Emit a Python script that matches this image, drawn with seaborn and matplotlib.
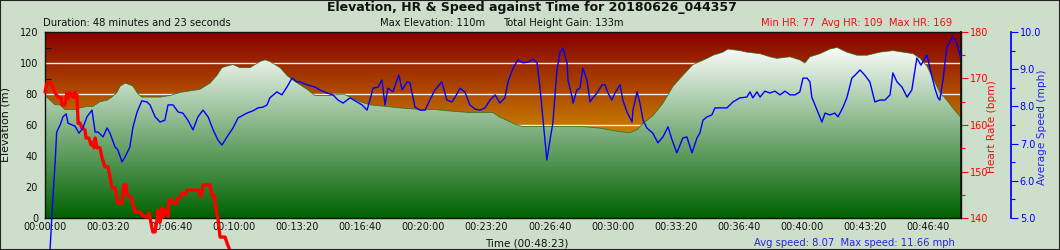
import numpy as np
import matplotlib
matplotlib.use("Agg")
import matplotlib.pyplot as plt
import seaborn as sns
from matplotlib.ticker import MultipleLocator, FuncFormatter
from matplotlib.patches import Rectangle

# ---------------- data ----------------
duration_s = 2903

elev_t = [0, 16, 32, 48, 63, 95, 111, 133, 152, 174, 197, 212, 228, 238, 254, 269, 279, 295, 307,
          365, 396, 428, 460, 491, 523, 545, 561, 577, 596, 618, 650, 666, 682, 697, 713, 729, 745,
          767, 786, 808, 831, 856, 903, 945, 967, 999, 1030, 1078, 1125, 1189, 1236, 1284, 1347,
          1420, 1442, 1465, 1496, 1515, 1705, 1759, 1813, 1854, 1877, 1896, 1927, 1959, 1991, 2022,
          2054, 2077, 2099, 2118, 2149, 2165, 2203, 2225, 2267, 2298, 2320, 2362, 2393, 2409, 2425,
          2457, 2488, 2511, 2542, 2574, 2606, 2647, 2688, 2720, 2752, 2774, 2796, 2815, 2837, 2859,
          2878, 2903]
elev_m = [79, 76, 73, 73, 70, 70, 71, 72, 72, 75, 76, 78, 81, 85, 87, 86, 85, 80, 78,
          78, 79, 81, 82, 83, 87, 92, 97, 98, 99, 97, 97, 99, 101, 102, 101, 99, 97,
          92, 89, 86, 83, 79, 79, 80, 78, 75, 73, 72, 71, 70, 70, 69, 68,
          68, 65, 63, 60, 59, 59, 58, 56, 55, 57, 61, 66, 74, 85, 92,
          99, 101, 103, 105, 107, 109, 108, 107, 106, 104, 103, 104, 102, 100, 104,
          106, 109, 110, 107, 105, 105, 107, 108, 107, 106, 103, 98, 90, 81, 76,
          71, 65]

speed_t = [10, 16, 24, 32, 37, 48, 57, 67, 73, 86, 95, 108, 120, 133, 149, 159, 168, 184, 197, 206,
           222, 231, 244, 254, 269, 279, 292, 307, 323, 333, 349, 365, 380, 390, 406, 422, 437, 453,
           469, 485, 501, 517, 533, 548, 561, 577, 596, 612, 640, 659, 675, 691, 704, 713, 735, 751,
           767, 783, 799, 808, 831, 856, 872, 894, 913, 929, 945, 967, 989, 1005, 1021, 1030, 1040,
           1056, 1068, 1078, 1087, 1103, 1116, 1122, 1132, 1148, 1157, 1173, 1189, 1205, 1220, 1236,
           1258, 1274, 1290, 1300, 1316, 1331, 1347, 1363, 1379, 1395, 1411, 1427, 1442, 1458, 1468,
           1484, 1499, 1515, 1531, 1547, 1560, 1569, 1579, 1591, 1601, 1610, 1623, 1633, 1642, 1655,
           1658, 1671, 1674, 1686, 1696, 1705, 1718, 1728, 1737, 1750, 1766, 1775, 1785, 1797, 1807,
           1823, 1832, 1845, 1861, 1864, 1877, 1886, 1896, 1908, 1927, 1943, 1959, 1975, 1988, 2003,
           2013, 2022, 2035, 2051, 2067, 2076, 2086, 2099, 2114, 2124, 2140, 2162, 2181, 2203, 2225,
           2235, 2244, 2257, 2267, 2282, 2298, 2314, 2330, 2346, 2362, 2378, 2393, 2403, 2416, 2425,
           2431, 2441, 2450, 2463, 2473, 2488, 2504, 2514, 2530, 2542, 2558, 2568, 2584, 2599, 2615,
           2631, 2647, 2663, 2679, 2688, 2701, 2717, 2733, 2748, 2758, 2764, 2777, 2790, 2796, 2809,
           2821, 2831, 2837, 2847, 2859, 2869, 2878, 2891, 2903]
speed_mph = [3.01, 4.14, 5.40, 6.48, 7.31, 7.50, 7.72, 7.80, 7.55, 7.50, 7.47, 7.28, 7.42, 7.72, 7.90,
             7.31, 7.31, 7.18, 7.42, 7.28, 6.91, 6.83, 6.51, 6.64, 6.91, 7.45, 7.85, 8.15, 8.12, 8.04,
             7.72, 7.58, 7.63, 8.04, 8.04, 7.85, 7.82, 7.63, 7.37, 7.72, 7.90, 7.72, 7.37, 7.10, 6.96,
             7.18, 7.42, 7.69, 7.82, 7.88, 7.96, 7.98, 8.04, 8.23, 8.39, 8.31, 8.52, 8.76, 8.66, 8.66,
             8.58, 8.52, 8.44, 8.36, 8.31, 8.17, 8.09, 8.23, 8.12, 8.04, 7.90, 8.17, 8.49, 8.52, 8.71,
             8.04, 8.49, 8.39, 8.71, 8.84, 8.44, 8.66, 8.63, 7.98, 7.90, 7.90, 8.17, 8.44, 8.66, 8.17,
             8.12, 8.25, 8.49, 8.39, 8.04, 7.93, 7.90, 7.96, 8.17, 8.31, 8.09, 8.23, 8.66, 9.03, 9.25,
             9.17, 9.19, 9.27, 9.17, 8.52, 7.63, 6.56, 7.10, 7.55, 8.98, 9.46, 9.57, 9.17, 8.71, 8.25,
             8.09, 8.44, 8.49, 9.03, 8.71, 8.12, 8.23, 8.36, 8.58, 8.58, 8.36, 8.17, 8.36, 8.58, 8.17,
             7.85, 7.58, 7.90, 8.39, 8.09, 7.63, 7.42, 7.28, 7.02, 7.18, 7.45, 7.10, 6.75, 6.96, 7.15,
             7.18, 6.75, 7.15, 7.28, 7.63, 7.72, 7.77, 7.96, 7.96, 7.96, 8.12, 8.23, 8.25, 8.39, 8.23,
             8.39, 8.25, 8.41, 8.36, 8.41, 8.31, 8.41, 8.31, 8.31, 8.39, 8.76, 8.76, 8.66, 8.25, 8.04,
             7.85, 7.58, 7.82, 7.77, 7.82, 7.72, 7.98, 8.23, 8.76, 8.84, 8.98, 8.84, 8.66, 8.12, 8.17,
             8.17, 8.31, 8.90, 8.66, 8.52, 8.25, 8.44, 8.98, 9.30, 9.11, 9.30, 9.38, 8.90, 8.49, 8.23,
             8.17, 8.71, 9.60, 9.73, 9.87, 9.70, 9.30]

hr_t = [0, 6, 19, 25, 32, 41, 51, 54, 63, 70, 73, 79, 89, 95, 98, 101, 105, 111, 117, 127, 130, 139,
        146, 149, 152, 155, 159, 165, 174, 181, 190, 200, 206, 212, 222, 231, 244, 250, 257, 260,
        273, 285, 301, 311, 323, 330, 336, 342, 349, 355, 358, 365, 371, 374, 380, 390, 393, 403,
        406, 418, 421, 428, 434, 447, 450, 485, 495, 501, 523, 529, 536, 542, 548, 555, 571, 577,
        586, 596]
hr_bpm = [167.1, 169.0, 169.0, 168.0, 166.9, 166.0, 165.8, 164.3, 164.3, 166.9, 165.8, 166.9, 166.0,
          167.1, 165.8, 166.5, 160.4, 160.4, 159.4, 158.9, 157.2, 157.2, 155.7, 155.7, 156.3, 155.1,
          157.2, 155.1, 155.1, 152.9, 151.0, 151.0, 148.8, 146.5, 146.5, 143.2, 143.2, 147.1, 147.1,
          144.9, 144.5, 141.3, 141.3, 140.4, 140.2, 141.1, 138.9, 137.0, 137.0, 139.6, 141.7, 139.1,
          142.2, 140.2, 141.7, 140.4, 143.9, 143.9, 143.2, 143.2, 144.3, 144.3, 145.2, 145.2, 146.0,
          146.0, 144.7, 147.1, 147.1, 144.9, 144.9, 141.7, 140.0, 135.9, 135.9, 134.6, 133.1, 131.0]

title = "Elevation, HR & Speed against Time for 20180626_044357"
sub_left = "Duration: 48 minutes and 23 seconds"
sub_mid1 = "Max Elevation: 110m"
sub_mid2 = "Total Height Gain: 133m"
sub_hr = "Min HR: 77  Avg HR: 109  Max HR: 169"
xlabel = "Time (00:48:23)"
sub_speed = "Avg speed: 8.07  Max speed: 11.66 mph"

# ---------------- style ----------------
sns.set_theme(style="white")
plt.rcParams["font.family"] = ["DejaVu Sans"]

BG = "#cddfcb"
W, H = 1060, 250
L, R, T, B = 45, 960.7, 32, 218

fig = plt.figure(figsize=(W / 100, H / 100), dpi=100, facecolor=BG)
ax = fig.add_axes([L / W, 1 - B / H, (R - L) / W, (B - T) / H])

# red/orange background gradient
g = np.linspace(0, 1, 256)[:, None, None]
top_c = np.array([136, 0, 0]) / 255
bot_c = np.array([255, 235, 0]) / 255
red_img = top_c + (bot_c - top_c) * g
ax.imshow(red_img, extent=[0, duration_s, 0, 120], aspect="auto", origin="upper", zorder=0)

for v in [20, 40, 60, 80, 100]:
    ax.axhline(v, color="#f4eee6", lw=1, zorder=1)

# elevation fill with white->green gradient
coll = ax.fill_between(elev_t, elev_m, 0, facecolor="none", edgecolor="none", zorder=2)
gtop = np.array([250, 252, 250]) / 255
gbot = np.array([0, 98, 0]) / 255
green_img = gtop + (gbot - gtop) * g
gim = ax.imshow(green_img, extent=[0, duration_s, 0, 110], aspect="auto", origin="upper", zorder=2)
gim.set_clip_path(coll.get_paths()[0], transform=ax.transData)
sns.lineplot(x=elev_t, y=elev_m, ax=ax, color="#1f6e1f", lw=0.6, alpha=0.8, zorder=3,
             estimator=None, sort=False)

ax.set_xlim(0, duration_s)
ax.set_ylim(0, 120)
ax.set_xlabel("")
ax.set_ylabel("")

def hms(x, pos):
    x = int(round(x))
    return "%02d:%02d:%02d" % (x // 3600, (x % 3600) // 60, x % 60)

ax.xaxis.set_major_locator(MultipleLocator(200))
ax.xaxis.set_minor_locator(MultipleLocator(100))
ax.xaxis.set_major_formatter(FuncFormatter(hms))
ax.yaxis.set_major_locator(MultipleLocator(20))
ax.yaxis.set_minor_locator(MultipleLocator(10))
ax.tick_params(axis="both", which="both", direction="in", length=4, width=0.8, color="#111",
               labelsize=7, labelcolor="#111")
ax.tick_params(axis="x", which="both", pad=3, bottom=True, top=False)
ax.tick_params(axis="y", which="both", pad=5, left=True, right=False)
for s in ax.spines.values():
    s.set_color("#111")
    s.set_linewidth(1)
    s.set_visible(True)

# heart-rate axis
ax2 = ax.twinx()
ax2.set_ylim(140, 180)
sns.lineplot(x=hr_t, y=hr_bpm, ax=ax2, color="#ff0000", lw=2.4, clip_on=False,
             estimator=None, sort=False)
ax2.set_xlim(0, duration_s)
ax2.set_ylabel("")
ax2.yaxis.set_major_locator(MultipleLocator(10))
ax2.yaxis.set_minor_locator(MultipleLocator(5))
ax2.tick_params(axis="y", which="major", direction="out", length=5, width=0.8, color="red",
                labelcolor="red", labelsize=7, pad=1.5)
ax2.tick_params(axis="y", which="minor", direction="out", length=3, width=0.8, color="red")
for k in ["left", "top", "bottom"]:
    ax2.spines[k].set_visible(False)
ax2.spines["right"].set_color("#111")

# speed axis
ax3 = ax.twinx()
ax3.set_ylim(5, 10)
sns.lineplot(x=speed_t, y=speed_mph, ax=ax3, color="#0000ff", lw=1, clip_on=False,
             estimator=None, sort=False)
ax3.set_xlim(0, duration_s)
ax3.set_ylabel("")
ax3.spines["right"].set_position(("axes", (1010.7 - L) / (R - L)))
ax3.spines["right"].set_color("#0000ff")
for k in ["left", "top", "bottom"]:
    ax3.spines[k].set_visible(False)
ax3.yaxis.set_major_locator(MultipleLocator(1))
ax3.yaxis.set_minor_locator(MultipleLocator(0.5))
ax3.yaxis.set_major_formatter(FuncFormatter(lambda v, p: "%.1f" % v))
ax3.tick_params(axis="y", which="major", direction="out", length=5, width=0.8, color="#0000ff",
                labelcolor="#0000ff", labelsize=7, pad=1.5)
ax3.tick_params(axis="y", which="minor", direction="out", length=3, width=0.8, color="#0000ff")

# ---------------- texts ----------------
def fx(px):
    return px / W

def fy(py):
    return 1 - py / H

fig.text(fx(532), fy(8), title, ha="center", va="center", fontsize=9, weight="bold", color="#111")
fig.text(fx(43), fy(23), sub_left, ha="left", va="center", fontsize=7.2, color="#111")
fig.text(fx(380), fy(23), sub_mid1, ha="left", va="center", fontsize=7.2, color="#111")
fig.text(fx(503), fy(23), sub_mid2, ha="left", va="center", fontsize=7.2, color="#111")
fig.text(fx(952), fy(23), sub_hr, ha="right", va="center", fontsize=7.2, color="#ee1111")
fig.text(fx(527), fy(243), xlabel, ha="center", va="center", fontsize=7.5, color="#111")
fig.text(fx(955), fy(243), sub_speed, ha="right", va="center", fontsize=7.2, color="#2222ee")
fig.text(fx(6), fy(125), "Elevation (m)", ha="center", va="center", rotation=90, fontsize=8,
         color="#111")
fig.text(fx(992), fy(127), "Heart Rate (bpm)", ha="center", va="center", rotation=90,
         fontsize=7.6, color="#ee1111")
fig.text(fx(1042), fy(127), "Average Speed (mph)", ha="center", va="center", rotation=90,
         fontsize=7.6, color="#2222ee")

fig.patches.append(Rectangle((0, 0), 1, 1, transform=fig.transFigure, fill=False,
                             edgecolor="#222", lw=1.5, zorder=10))

fig.savefig("out.png", dpi=100, facecolor=BG)
